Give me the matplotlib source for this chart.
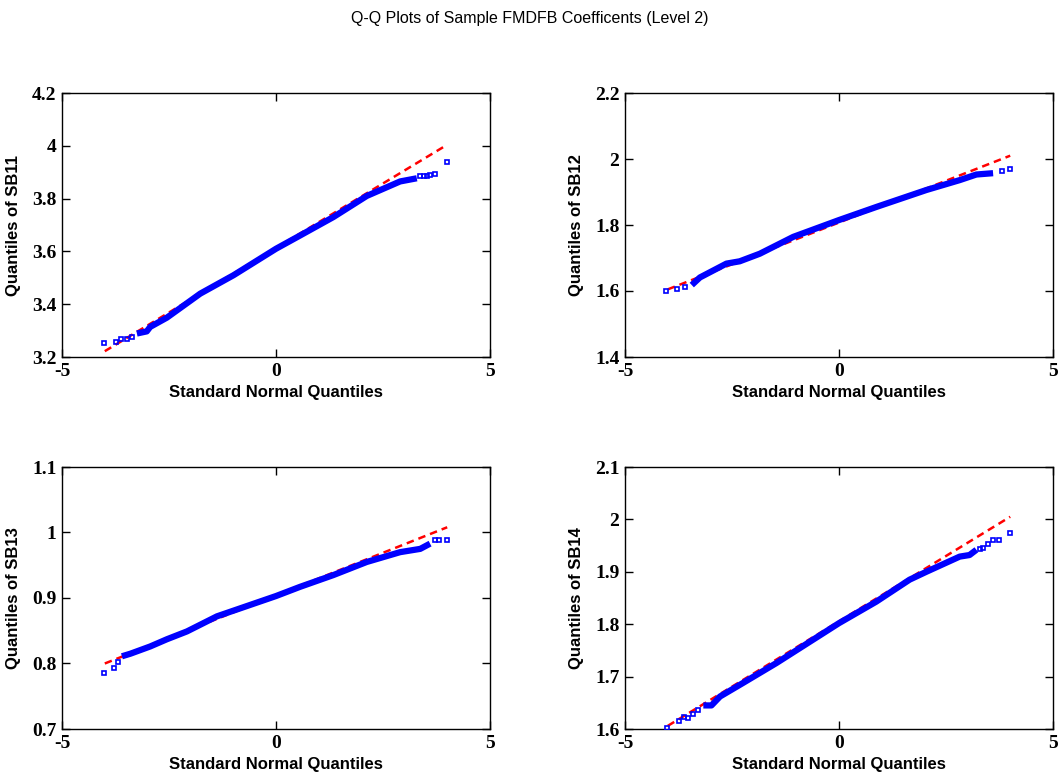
import matplotlib
matplotlib.use("Agg")
import matplotlib.pyplot as plt

# sample quantiles (dense part of each curve)
sb11_x = [-3.25, -3.02, -2.94, -2.55, -1.77, -0.99, 0.0, 0.56, 1.34, 2.12, 2.9, 3.29]
sb11_y = [3.289, 3.297, 3.314, 3.349, 3.44, 3.51, 3.61, 3.66, 3.73, 3.81, 3.865, 3.877]
sb11_tx = [-4.03, -3.74, -3.62, -3.48, -3.37, 3.37, 3.45, 3.52, 3.60, 3.72, 4.0]
sb11_ty = [3.253, 3.257, 3.268, 3.27, 3.276, 3.884, 3.884, 3.884, 3.889, 3.892, 3.938]

sb12_x = [-3.44, -3.25, -2.63, -2.32, -1.85, -1.07, 0.0, 0.88, 2.04, 2.43, 2.82, 3.21, 3.6]
sb12_y = [1.618, 1.641, 1.683, 1.69, 1.713, 1.764, 1.815, 1.855, 1.906, 1.921, 1.936, 1.953, 1.957]
sb12_tx = [-4.04, -3.78, -3.6, 3.8, 3.99]
sb12_ty = [1.60, 1.607, 1.613, 1.963, 1.969]

sb13_x = [-3.6, -3.4, -2.94, -2.55, -2.08, -1.38, 0.0, 0.56, 1.34, 2.12, 2.9, 3.37, 3.6]
sb13_y = [0.811, 0.815, 0.826, 0.837, 0.849, 0.872, 0.903, 0.917, 0.935, 0.955, 0.97, 0.975, 0.983]
sb13_tx = [-4.03, -3.79, -3.68, 3.72, 3.8, 3.99]
sb13_ty = [0.786, 0.793, 0.803, 0.989, 0.989, 0.988]

sb14_x = [-3.17, -2.98, -2.78, -2.24, -1.46, 0.0, 0.87, 1.65, 2.04, 2.82, 3.05, 3.21]
sb14_y = [1.645, 1.645, 1.662, 1.688, 1.726, 1.802, 1.843, 1.885, 1.9, 1.929, 1.932, 1.942]
sb14_tx = [-4.01, -3.75, -3.61, -3.52, -3.4, -3.29, 3.3, 3.37, 3.48, 3.6, 3.74, 4.0]
sb14_ty = [1.602, 1.615, 1.622, 1.621, 1.628, 1.637, 1.944, 1.946, 1.954, 1.96, 1.96, 1.974]

# reference lines (end points)
ref_x = [-4.0, 4.0]
sb11_ref = [3.222, 4.004]
sb12_ref = [1.605, 2.010]
sb13_ref = [0.800, 1.008]
sb14_ref = [1.606, 2.005]

names = ["SB11", "SB12", "SB13", "SB14"]
yticks = [[3.2, 3.4, 3.6, 3.8, 4, 4.2],
          [1.4, 1.6, 1.8, 2, 2.2],
          [0.7, 0.8, 0.9, 1, 1.1],
          [1.6, 1.7, 1.8, 1.9, 2, 2.1]]
ylabels = [["3.2", "3.4", "3.6", "3.8", "4", "4.2"],
           ["1.4", "1.6", "1.8", "2", "2.2"],
           ["0.7", "0.8", "0.9", "1", "1.1"],
           ["1.6", "1.7", "1.8", "1.9", "2", "2.1"]]
curves = [(sb11_x, sb11_y, sb11_tx, sb11_ty, sb11_ref),
          (sb12_x, sb12_y, sb12_tx, sb12_ty, sb12_ref),
          (sb13_x, sb13_y, sb13_tx, sb13_ty, sb13_ref),
          (sb14_x, sb14_y, sb14_tx, sb14_ty, sb14_ref)]

W, H = 1060, 781
fig = plt.figure(figsize=(W / 100, H / 100), dpi=100)
boxes = [(62, 93, 490, 357), (625, 93, 1053, 357),
         (62, 467, 490, 729), (625, 467, 1053, 729)]

sans = ["Liberation Sans", "DejaVu Sans"]
serif = ["Liberation Serif", "DejaVu Serif"]

for i, (l, t, r, b) in enumerate(boxes):
    ax = fig.add_axes([l / W, 1 - b / H, (r - l) / W, (b - t) / H])
    cx, cy, tx, ty, ref = curves[i]
    ax.plot(ref_x, ref, color="red", lw=1.8, dashes=(3, 2), zorder=2)
    ax.plot(cx, cy, "-", color="blue", lw=4.5, solid_joinstyle="round",
            solid_capstyle="butt", zorder=3)
    ax.plot(tx, ty, "s", ms=3.5, mfc="none", mec="blue", mew=1.2, zorder=3)
    ax.set_xlim(-5, 5)
    ax.set_ylim(yticks[i][0], yticks[i][-1])
    ax.set_xticks([-5, 0, 5])
    ax.set_xticklabels(["-5", "0", "5"])
    ax.set_yticks(yticks[i])
    ax.set_yticklabels(ylabels[i])
    ax.tick_params(direction="in", length=6, width=1, top=True, right=True,
                   labelsize=14, pad=4)
    for lab in ax.get_xticklabels() + ax.get_yticklabels():
        lab.set_family(serif)
        lab.set_fontweight("bold")
    for s in ax.spines.values():
        s.set_linewidth(1)
    ax.set_xlabel("Standard Normal Quantiles", family=sans, fontweight="bold",
                  fontsize=12, labelpad=4)
    ax.set_ylabel("Quantiles of " + names[i], family=sans, fontweight="bold",
                  fontsize=12, labelpad=8)

fig.text(0.5, 1 - 18 / H, "Q-Q Plots of Sample FMDFB Coefficents (Level 2)",
         ha="center", va="center", family=sans, fontsize=11.5)

fig.savefig("out.png", dpi=100)
